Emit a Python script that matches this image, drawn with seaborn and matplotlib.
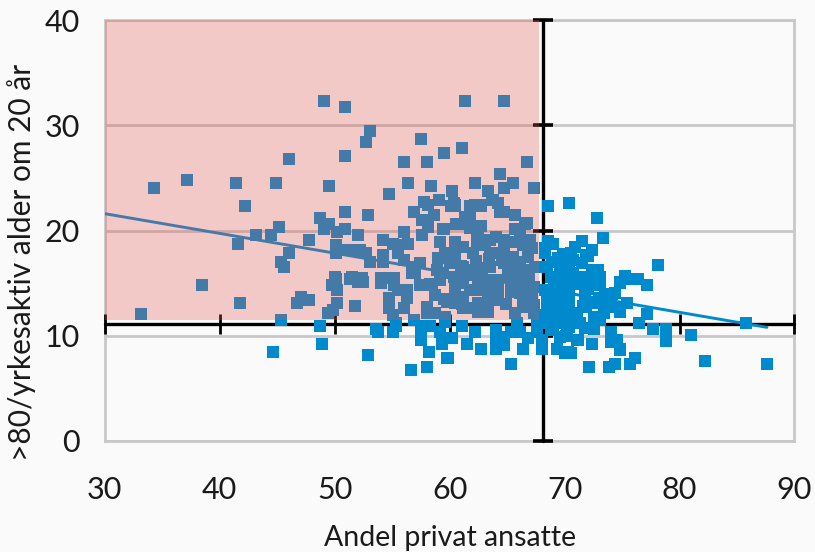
import seaborn as sns
import matplotlib
matplotlib.use("Agg")
import matplotlib.pyplot as plt

# --- data ---
andel_privat = [
    34.3, 37.2, 41.4, 42.2, 44.9, 46.05, 49.1, 50.9, 53.1, 52.7, 50.9, 49.5, 54.7, 57.5, 56.0, 58.0, 59.5, 56.4, 58.4, 59.1,
    48.7, 50.9, 52.9, 49.5, 49.1, 45.2, 50.9, 50.2, 43.2, 44.5, 47.8, 52.0, 56.0, 54.2, 56.9, 61.3, 64.7, 61.1, 66.7, 64.4,
    62.2, 63.3, 64.7, 65.5, 67.3, 60.2, 60.4, 60.1, 61.8, 62.7, 63.7, 64.2, 64.4, 64.7, 65.7, 61.8, 60.6, 62.7, 59.4, 61.8,
    65.7, 66.6, 68.6, 70.4, 72.8, 73.3, 71.5, 68.6, 69.0, 72.4, 72.0, 70.6, 78.1, 72.8, 72.4, 75.3, 76.4, 75.9, 74.8, 77.2,
    73.0, 74.1, 75.4, 77.2, 76.5, 77.7, 78.8, 78.8, 85.8, 81.0, 82.2, 87.6, 76.1, 75.7, 74.4, 73.9, 72.1, 74.8, 65.3, 59.8,
    62.7, 61.5, 64.0, 66.4, 68.0, 70.3, 69.3, 72.4, 74.1, 72.6, 62.2, 61.1, 33.2, 38.5, 41.8, 41.6, 46.0, 45.3, 45.6, 46.7,
    47.1, 47.8, 45.3, 48.7, 44.6, 48.9, 52.9, 53.6, 53.8, 55.1, 55.3, 56.6, 58.0, 58.2, 59.9, 59.3, 57.5, 56.9, 49.4, 49.9,
    50.2, 51.8, 50.2, 49.8, 50.1, 51.3, 52.0, 52.5, 54.0, 50.1, 50.1, 50.9, 51.6, 52.2, 52.7, 53.1, 54.2, 54.2, 57.8, 58.1,
    60.5, 60.3, 58.6, 61.3, 60.7, 57.6, 58.1, 57.6, 59.5, 55.1, 55.5, 56.4, 54.2, 55.5, 56.0, 54.2, 59.2, 60.5, 61.2, 59.6,
    60.5, 62.0, 59.0, 60.5, 61.2, 57.4, 56.7, 56.7, 54.7, 55.2, 51.5, 52.4, 54.0, 50.0, 58.9, 59.4, 61.2, 62.1, 54.7, 54.7,
    55.1, 56.3, 56.3, 55.5, 55.2, 58.0, 58.0, 58.7, 58.7, 59.6, 60.5, 61.2, 60.5, 61.2, 61.8, 60.5, 61.2, 59.2, 58.5, 60.2,
    59.2, 57.5, 57.5, 58.3, 59.6, 55.3, 62.5, 63.8, 64.2, 62.2, 62.7, 64.6, 66.7, 62.4, 63.5, 64.7, 66.1, 66.4, 63.1, 64.7,
    67.2, 63.5, 64.4, 65.5, 62.0, 66.8, 63.5, 64.7, 66.1, 62.7, 62.1, 65.5, 66.7, 67.4, 71.9, 68.3, 68.3, 69.4, 70.2, 70.7,
    68.5, 69.6, 70.4, 72.9, 71.6, 70.7, 64.0, 64.7, 64.7, 66.4, 66.8, 68.0, 70.0, 70.6, 71.1, 74.0, 74.0, 74.6, 74.8, 69.6,
    70.2, 68.8, 67.6, 66.1, 65.3, 64.0, 65.9, 67.6, 68.6, 69.3, 70.4, 71.3, 71.8, 73.4, 73.1, 74.4, 74.8, 74.4, 74.8, 71.8,
    73.1, 71.8, 73.1, 71.8, 72.8, 71.9, 70.4, 69.6, 68.8, 70.4, 69.4, 68.3, 70.4, 69.4, 68.8, 70.4, 69.4, 68.5, 70.4, 69.4,
    68.1, 71.1, 68.5, 62.5, 62.5, 63.3, 63.3, 63.3, 64.2, 64.2, 64.2, 65.3, 66.1, 62.5, 62.5, 65.3, 66.1, 67.3, 65.7, 66.7,
    67.3, 67.3, 62.0,
    # filling the densest parts of the cloud
    60.0, 61.0, 62.3, 63.4, 64.6, 65.8, 66.9, 60.4, 61.6, 62.8, 63.9, 65.1, 66.3, 67.2, 59.8, 61.1, 63.0, 64.9, 66.4, 60.9,
    62.4, 64.0, 65.4, 67.0, 57.0, 58.3, 59.5, 56.0, 57.4, 68.9, 69.9, 70.9, 71.5, 72.2, 73.5, 69.1, 70.0, 71.0, 72.0, 73.0,
    68.4, 69.5, 70.6, 71.6, 72.6, 73.7, 69.0, 70.1, 71.2,
]
yrkesaktiv = [
    24.0, 24.8, 24.5, 22.3, 24.5, 26.8, 32.3, 31.7, 29.5, 28.4, 27.1, 24.2, 23.5, 28.7, 26.5, 26.5, 27.4, 24.5, 24.2, 22.9,
    21.2, 21.8, 21.5, 20.6, 20.1, 20.3, 20.1, 19.9, 19.6, 19.6, 19.1, 19.6, 19.9, 19.1, 21.8, 32.3, 32.3, 27.8, 26.5, 25.4,
    24.5, 23.8, 24.0, 24.5, 24.0, 23.8, 22.6, 22.3, 22.3, 22.3, 22.9, 22.6, 21.8, 21.8, 21.5, 21.4, 20.6, 20.4, 20.1, 20.2,
    20.1, 20.6, 22.3, 22.6, 21.2, 19.3, 19.0, 19.0, 18.7, 18.1, 17.6, 17.9, 16.7, 16.2, 16.2, 15.7, 15.4, 15.4, 15.1, 14.8,
    14.8, 14.0, 13.1, 12.1, 11.2, 10.6, 10.6, 9.5, 11.2, 10.1, 7.6, 7.3, 7.9, 7.3, 7.3, 7.0, 7.0, 8.7, 7.3, 7.9,
    8.7, 9.2, 8.7, 8.7, 8.7, 8.5, 8.7, 9.2, 9.5, 10.6, 10.4, 10.9, 12.1, 14.8, 13.1, 18.7, 17.9, 17.0, 16.5, 13.1,
    13.7, 13.4, 11.5, 10.9, 8.5, 9.2, 8.2, 10.6, 10.4, 10.4, 11.2, 6.7, 7.0, 8.5, 7.9, 9.2, 9.6, 11.5, 12.2, 12.4,
    13.1, 12.8, 14.3, 14.8, 15.4, 15.4, 15.1, 15.1, 15.0, 17.9, 18.6, 18.1, 18.1, 18.1, 17.9, 17.0, 17.6, 17.0, 22.7, 22.4,
    22.4, 22.3, 21.5, 21.3, 20.6, 21.0, 20.3, 19.6, 20.1, 18.7, 18.6, 18.7, 17.7, 17.9, 17.2, 17.2, 18.9, 18.9, 18.4, 17.9,
    17.9, 17.9, 17.4, 16.9, 16.5, 16.9, 16.5, 16.0, 15.5, 15.5, 15.6, 15.5, 15.5, 15.6, 16.2, 16.0, 16.0, 16.2, 13.6, 12.6,
    12.0, 14.3, 13.6, 14.3, 14.8, 12.7, 12.2, 13.9, 12.2, 11.8, 13.1, 12.6, 14.0, 13.7, 14.3, 15.0, 15.0, 15.3, 14.8, 9.8,
    10.4, 10.4, 10.9, 10.9, 11.3, 10.9, 19.6, 22.9, 22.6, 22.4, 22.4, 21.8, 20.7, 19.3, 19.1, 19.1, 19.6, 18.6, 18.6, 18.3,
    18.3, 17.9, 17.9, 17.5, 17.9, 17.5, 16.5, 16.9, 16.7, 16.4, 16.2, 16.0, 16.2, 16.5, 17.7, 18.3, 17.9, 17.4, 17.4, 17.2,
    16.5, 16.2, 16.4, 16.2, 15.6, 16.0, 9.9, 9.9, 9.1, 8.7, 9.8, 9.6, 8.4, 8.4, 9.6, 10.4, 9.4, 9.6, 8.6, 9.9,
    10.5, 10.5, 10.4, 10.4, 10.4, 10.5, 11.2, 11.2, 11.2, 11.2, 10.8, 11.2, 10.7, 12.2, 11.5, 12.7, 12.3, 14.1, 15.0, 15.6,
    15.6, 14.6, 15.0, 13.7, 13.1, 12.7, 15.6, 15.6, 15.6, 14.6, 14.6, 14.3, 13.7, 13.7, 13.4, 12.7, 12.7, 12.7, 12.0, 12.0,
    12.0, 12.2, 13.9, 13.1, 12.3, 14.3, 13.4, 12.3, 14.3, 13.4, 15.3, 15.3, 15.6, 15.3, 14.3, 14.2, 14.1, 14.6, 12.2, 12.7,
    12.9, 12.2, 12.6,
    # filling the densest parts of the cloud
    17.0, 16.6, 17.1, 17.3, 17.2, 17.0, 15.4, 15.6, 15.8, 15.5, 15.3, 15.8, 14.9, 13.8, 13.2, 13.0, 14.8, 13.0, 13.2, 18.4,
    18.7, 19.4, 18.9, 19.1, 16.0, 14.9, 13.5, 12.6, 14.8, 17.0, 17.8, 18.4, 16.9, 15.4, 13.9, 15.0, 15.0, 14.9, 14.4, 13.6,
    11.9, 11.6, 11.4, 12.8, 11.8, 12.9, 10.6, 10.0, 9.6,
]
trend_x = [30, 87.6]
trend_y = [21.6, 10.8]
x_ticks = [30, 40, 50, 60, 70, 80, 90]
y_ticks = [0, 10, 20, 30, 40]
cross_x = 68.1
cross_y = 11.1
shade_x = [30, 67.8]
shade_y = [11.5, 40]

BLUE = "#008ACE"
GREY = "#C8C8C8"
BG = "#FAFAFA"

sns.set_theme(style="whitegrid")
plt.rcParams["font.family"] = ["Lato", "DejaVu Sans"]

fig = plt.figure(figsize=(8.15, 5.52), dpi=100, facecolor=BG)
ax = fig.add_axes([104.7 / 815, 111 / 552, 689.8 / 815, 421 / 552], facecolor=BG)

# grid and frame
ax.grid(False)
ax.yaxis.grid(True, color=GREY, linewidth=2.0, zorder=0)
for side in ax.spines:
    ax.spines[side].set_color(GREY)
    ax.spines[side].set_linewidth(2.0)
    ax.spines[side].set_zorder(0.5)

# crosshair with its own ticks
ax.plot(x_ticks, [cross_y] * len(x_ticks), color="black", linewidth=2.4, marker="|",
        markersize=14, markeredgewidth=2.0, zorder=1, clip_on=False)
ax.plot([cross_x] * len(y_ticks), y_ticks, color="black", linewidth=2.4, marker="_",
        markersize=15, markeredgewidth=2.6, zorder=1, clip_on=False)

# points and trend line
sns.scatterplot(x=andel_privat, y=yrkesaktiv, ax=ax, marker="s", s=76, color=BLUE,
                linewidth=0, zorder=2, clip_on=False)
sns.lineplot(x=trend_x, y=trend_y, ax=ax, color=BLUE, linewidth=2.1, zorder=3)

# red shaded quadrant, on top of everything
ax.fill_between(shade_x, shade_y[0], shade_y[1], color="#E35853", alpha=0.3, linewidth=0, zorder=4)

ax.set_xlim(30, 90)
ax.set_ylim(0, 40)
ax.set_xticks(x_ticks)
ax.set_yticks(y_ticks)
ax.tick_params(axis="x", length=0, labelsize=22, labelcolor="#1A1A1A", pad=25)
ax.tick_params(axis="y", length=0, labelsize=22, labelcolor="#1A1A1A", pad=18)

ax.set_xlabel("Andel privat ansatte", fontsize=20.5, color="#1A1A1A", labelpad=15)
ax.set_ylabel(">80/yrkesaktiv alder om 20 år", fontsize=21.5, color="#1A1A1A")
ax.yaxis.set_label_coords(-0.1, 0.425)

fig.savefig("out.png", dpi=100, facecolor=BG)
